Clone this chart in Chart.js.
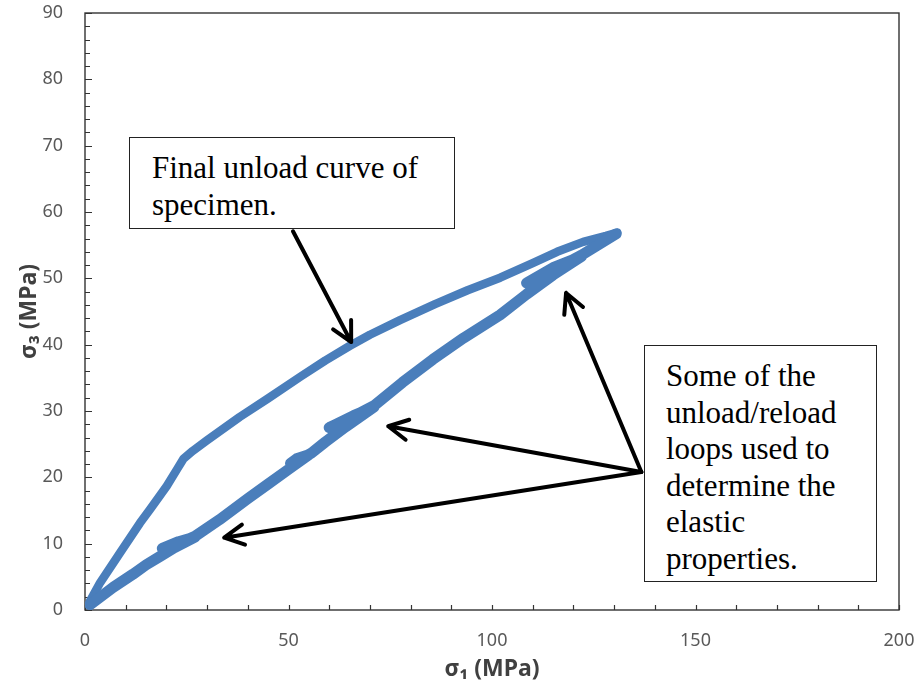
<!DOCTYPE html>
<html lang="en">
<head>
  <meta charset="UTF-8">
  <title>Unload / reload loops</title>
  <script src="https://cdn.jsdelivr.net/npm/chart.js"></script>
  <style>
    body { margin: 0; background: #fff; }
    .wrap { position: relative; width: 919px; height: 694px; }
    .note {
      position: absolute;
      box-sizing: border-box;
      background: #fff;
      border: 1.5px solid #222;
      font-family: "Liberation Serif", "Times New Roman", serif;
      font-size: 31px;
      line-height: 36.6px;
      color: #000;
      white-space: nowrap;
    }
  </style>
</head>
<body>
<div class="wrap">
  <canvas id="loopChart" width="919" height="694"></canvas>
  <div class="note" style="left:129px; top:137px; width:326px; height:92px; padding:12px 0 0 22px;">Final unload curve of<br>specimen.</div>
  <div class="note" style="left:644px; top:345px; width:233px; height:237px; padding:12px 0 0 21px;">Some of the<br>unload/reload<br>loops used to<br>determine the<br>elastic<br>properties.</div>
</div>

<script>
// loading path, with the small unload/reload loops along it (MPa)
const loadS1 = [1.2, 3, 6.9, 11.8, 15, 18.5, 22, 27, 23, 19, 22, 27, 33, 40, 45, 50, 55, 52, 50.5, 53, 55.5,
                59, 64, 71, 66, 60, 65, 71, 78, 85.5, 93, 102, 108.5, 115, 122, 115, 108.5, 115, 122, 126, 130.5];
const loadS3 = [0.8, 1.6, 3.4, 5.4, 6.8, 8.1, 9.4, 11.0, 10.3, 9.3, 9.8, 11.1, 13.6, 16.8, 19.0, 21.2, 23.4, 22.8, 22.1, 22.8, 23.6,
                25.3, 27.6, 30.6, 29.3, 27.5, 28.9, 30.8, 34.3, 37.8, 41.0, 44.5, 47.6, 50.5, 53.3, 51.6, 49.3, 51.2, 53.5, 55.0, 56.7];

// final unload curve
const unloadS1 = [130.8, 128, 122.4, 116, 110, 102, 94, 86, 77.4, 70, 65, 59, 53, 45, 38, 30, 26.5, 24.2, 22.6, 20.1, 16, 13.5, 8.6, 3.7, 1.2];
const unloadS3 = [56.9, 56.4, 55.5, 54.0, 52.3, 50.1, 48.2, 46.1, 43.7, 41.5, 39.8, 37.6, 35.2, 31.9, 29.1, 25.6, 24.0, 22.8, 21.2, 18.7, 15.2, 13.1, 8.6, 4.1, 1.3];

// annotation arrows [tailX, tailY, tipX, tipY] in data units
const arrows = [
  [51.1, 57.1, 65.4, 40.4],
  [136.7, 20.8, 118.2, 47.8],
  [136.7, 20.8, 74.5, 27.7],
  [136.7, 20.8, 34.2, 10.9]
];

const toPoints = (xs, ys) => xs.map((v, i) => ({ x: v, y: ys[i] }));

const BLUE = '#4a7ebb';
const tickFont = { family: 'Noto Sans', size: 18 };
const titleFont = { family: 'Noto Sans', size: 23, weight: 'bold' };

// plot frame with inward ticks, like the spreadsheet chart
const framePlugin = {
  id: 'framePlugin',
  beforeDatasetsDraw(chart) {
    const { ctx, chartArea: a, scales: { x, y } } = chart;
    ctx.save();
    ctx.strokeStyle = '#333';
    ctx.lineWidth = 1.4;
    ctx.strokeRect(a.left, a.top, a.right - a.left, a.bottom - a.top);
    ctx.lineWidth = 1.2;
    ctx.beginPath();
    for (let v = 0; v <= 90; v += 2) {
      const py = Math.round(y.getPixelForValue(v)) + 0.5;
      const len = v % 10 === 0 ? 7 : 5;
      ctx.moveTo(a.left, py);
      ctx.lineTo(a.left + len, py);
    }
    for (let v = 0; v <= 200; v += 10) {
      const px = Math.round(x.getPixelForValue(v)) + 0.5;
      ctx.moveTo(px, a.bottom);
      ctx.lineTo(px, a.bottom - 5);
    }
    ctx.stroke();
    ctx.restore();
  },
  afterDatasetsDraw(chart) {
    const { ctx, scales: { x, y } } = chart;
    ctx.save();
    ctx.strokeStyle = '#000';
    ctx.lineWidth = 4;
    ctx.lineCap = 'round';
    ctx.lineJoin = 'round';
    arrows.forEach(([x0, y0, x1, y1]) => {
      const ax = x.getPixelForValue(x0), ay = y.getPixelForValue(y0);
      const bx = x.getPixelForValue(x1), by = y.getPixelForValue(y1);
      const ang = Math.atan2(by - ay, bx - ax);
      const head = 22, spread = 0.48;
      ctx.beginPath();
      ctx.moveTo(ax, ay);
      ctx.lineTo(bx, by);
      ctx.moveTo(bx - head * Math.cos(ang - spread), by - head * Math.sin(ang - spread));
      ctx.lineTo(bx, by);
      ctx.lineTo(bx - head * Math.cos(ang + spread), by - head * Math.sin(ang + spread));
      ctx.stroke();
    });
    ctx.restore();
  }
};

new Chart(document.getElementById('loopChart'), {
  type: 'scatter',
  data: {
    datasets: [
      {
        label: 'Loading',
        data: toPoints(loadS1, loadS3),
        showLine: true,
        borderColor: BLUE,
        borderWidth: 11,
        borderJoinStyle: 'round',
        borderCapStyle: 'round',
        pointRadius: 0,
        tension: 0
      },
      {
        label: 'Final unload',
        data: toPoints(unloadS1, unloadS3),
        showLine: true,
        borderColor: BLUE,
        borderWidth: 8.5,
        borderJoinStyle: 'round',
        borderCapStyle: 'round',
        pointRadius: 0,
        tension: 0
      }
    ]
  },
  options: {
    responsive: false,
    devicePixelRatio: 1,
    animation: false,
    layout: { padding: { left: 0, right: 20, top: 13, bottom: 0 } },
    plugins: { legend: { display: false }, tooltip: { enabled: false } },
    scales: {
      x: {
        type: 'linear',
        min: 0, max: 200,
        ticks: { stepSize: 50, padding: 20, color: '#595959', font: tickFont },
        grid: { display: false, drawTicks: false },
        border: { display: false },
        title: { display: true, text: 'σ₁ (MPa)', color: '#404040', font: titleFont, padding: { top: 0, bottom: 11 } },
        afterFit(s) { s.height = 84; s.paddingLeft = 0; s.paddingRight = 0; }
      },
      y: {
        type: 'linear',
        min: 0, max: 90,
        ticks: { stepSize: 10, padding: 22, color: '#595959', font: tickFont },
        grid: { display: false, drawTicks: false },
        border: { display: false },
        title: { display: true, text: 'σ₃ (MPa)', color: '#404040', font: titleFont, padding: { top: 16, bottom: 0 } },
        afterFit(s) { s.width = 85; s.paddingTop = 0; s.paddingBottom = 0; }
      }
    }
  },
  plugins: [framePlugin]
});
</script>
</body>
</html>
